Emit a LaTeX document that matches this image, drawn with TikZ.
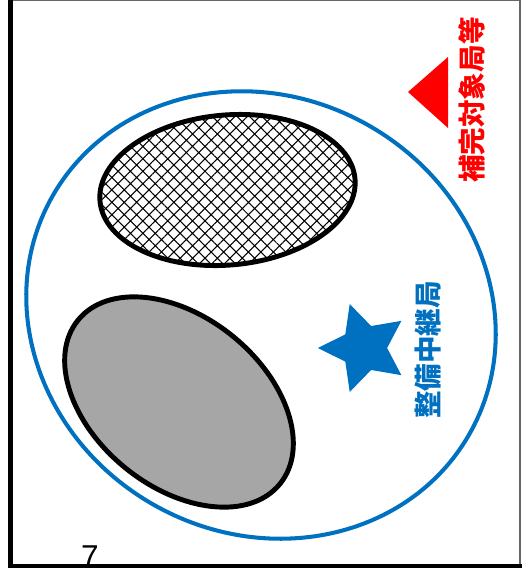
\documentclass[tikz,border=0pt]{standalone}
\usepackage{fontspec}
\setmainfont{Liberation Sans}
\newfontfamily\jpfont{Noto Sans CJK JP}
\usetikzlibrary{patterns.meta,shapes.geometric}
\definecolor{relayblue}{RGB}{0,112,192}
\definecolor{targetred}{RGB}{255,0,0}
\tikzset{
	rim/.style={line width=2.8pt},
	jplabel/.style={rotate=90, inner sep=0pt, font=\jpfont\bfseries\fontsize{15.7}{16}\selectfont},
}

\begin{document}
\begin{tikzpicture}[x=0.02cm, y=-0.02cm]
		%%%%% START %%%%%
		\useasboundingbox (0,0) rectangle (522,575);
		
		\draw[line width=0.6pt, color=black!60] (8, 0.5) -- (520, 0.5) -- (520, 566);
		\draw[line width=2.8pt] (10.5, 0) -- (10.5, 566) -- (522, 566);
		
		\draw[line width=2.3pt, color=relayblue, rotate around={-30:(261,315)}] (261, 315) ellipse [x radius=240, y radius=218];
		
		\draw[rim, pattern={Hatch[angle=45, distance=5pt, line width=0.6pt]}, rotate around={5:(227.5,190)}] (227.5, 190) ellipse [x radius=128, y radius=75];
		\draw[rim, fill=black!35, rotate around={-39:(179,402)}] (179, 402) ellipse [x radius=130, y radius=85];
		
		\node[star, star points=5, star point ratio=2, shape border rotate=90, minimum size=52.6pt, inner sep=0pt, fill=relayblue] (relay) at (364, 348) {};
		\node[jplabel, color=relayblue] (relay-label) at (428, 350) {整備中継局};
		
		\fill[targetred] (408, 92) -- (448, 57) -- (448, 128) -- cycle;
		\node[jplabel, color=targetred] (target-label) at (472, 100) {補完対象局等};
		
		\node[anchor=base, inner sep=0pt, font=\fontsize{18}{18}\selectfont] (page-no) at (90, 567) {7};
		%%%%% END %%%%%
\end{tikzpicture}
\end{document}
